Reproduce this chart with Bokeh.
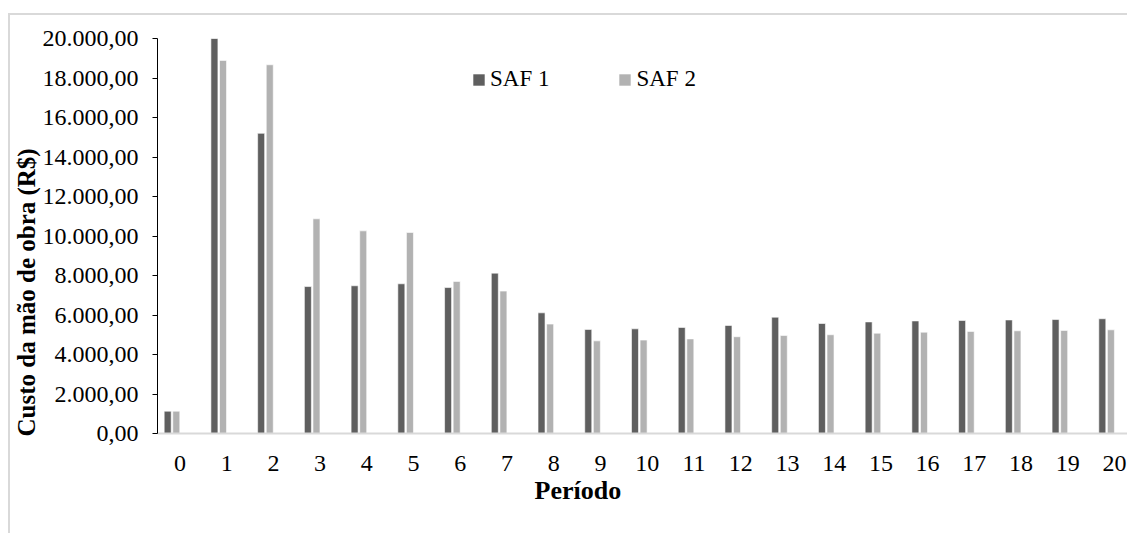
import math
from bokeh.plotting import figure
from bokeh.models import (Range1d, ColumnDataSource, Legend, LegendItem, Title,
                          CustomJSTickFormatter, FixedTicker)
from bokeh.transform import dodge
from bokeh.embed import file_html
from bokeh.resources import INLINE

periodos = [0, 1, 2, 3, 4, 5, 6, 7, 8, 9, 10, 11, 12, 13, 14, 15, 16, 17, 18, 19, 20]
saf1 = [1130, 20000, 15200, 7440, 7480, 7580, 7390, 8120, 6110, 5270, 5300,
        5370, 5470, 5890, 5570, 5650, 5700, 5720, 5750, 5770, 5810]
saf2 = [1130, 18890, 18670, 10870, 10260, 10180, 7700, 7210, 5540, 4690, 4730,
        4790, 4900, 4960, 5000, 5080, 5130, 5170, 5200, 5220, 5250]
y_ticks = [0, 2000, 4000, 6000, 8000, 10000, 12000, 14000, 16000, 18000, 20000]

SERIF = "Liberation Serif"
C1 = "#5f5f5f"
C2 = "#b2b2b2"
LABEL_SHIFT = 0.17  # category labels sit slightly right of the bar pairs

src = ColumnDataSource(dict(periodo=periodos, saf1=saf1, saf2=saf2))

p = figure(width=1119, height=520, output_backend="svg", toolbar_location=None,
           x_range=Range1d(-0.31, 20.49), y_range=Range1d(0, 20000),
           min_border_left=146, min_border_right=0, min_border_top=23,
           min_border_bottom=102)
p.margin = (13, 0, 0, 8)
p.styles = {"border-top": "2px solid #d9d9d9", "border-left": "2px solid #d9d9d9"}
p.outline_line_color = None
p.xgrid.visible = False
p.ygrid.visible = False
p.background_fill_color = "white"
p.border_fill_color = "white"

r1 = p.vbar(x=dodge("periodo", -0.092, range=p.x_range), top="saf1", width=0.15,
            bottom=0, source=src, fill_color=C1, line_color="white", line_width=0.6)
r2 = p.vbar(x=dodge("periodo", 0.092, range=p.x_range), top="saf2", width=0.15,
            bottom=0, source=src, fill_color=C2, line_color="white", line_width=0.6)

# y axis
ya = p.yaxis[0]
ya.ticker = FixedTicker(ticks=y_ticks)
ya.formatter = CustomJSTickFormatter(code="""
    const s = tick.toFixed(2).split('.');
    const ip = s[0].replace(/\\B(?=(\\d{3})+(?!\\d))/g, '.');
    return ip + ',' + s[1];
""")
ya.axis_line_color = "black"
ya.axis_line_width = 1
ya.major_tick_line_color = "black"
ya.major_tick_out = 5
ya.major_tick_in = 0
ya.minor_tick_line_color = None
ya.major_label_text_font = SERIF
ya.major_label_text_font_size = "24px"
ya.major_label_text_color = "black"
ya.major_label_standoff = 14

# x axis
xa = p.xaxis[0]
xa.ticker = FixedTicker(ticks=[v + LABEL_SHIFT for v in periodos])
xa.formatter = CustomJSTickFormatter(args=dict(shift=LABEL_SHIFT),
                                     code="return String(Math.round(tick - shift));")
xa.axis_line_color = "#d9d9d9"
xa.axis_line_width = 2
xa.major_tick_line_color = None
xa.minor_tick_line_color = None
xa.major_label_text_font = SERIF
xa.major_label_text_font_size = "24px"
xa.major_label_text_color = "black"
xa.major_label_standoff = 16

# axis titles
p.add_layout(Title(text="Período", align="left", offset=377, text_font=SERIF,
                   text_font_size="26px", text_font_style="bold",
                   text_color="black", standoff=0), "below")
p.add_layout(Title(text="Custo da mão de obra (R$)", align="left", offset=-3,
                   text_font=SERIF, text_font_size="25px", text_font_style="bold",
                   text_color="black", standoff=0), "left")

legend = Legend(items=[LegendItem(label="SAF 1", renderers=[r1]),
                       LegendItem(label="SAF 2", renderers=[r2])],
                orientation="horizontal", location=(314, 341),
                label_text_font=SERIF, label_text_font_size="23px",
                label_text_color="black", glyph_width=15, glyph_height=15,
                label_standoff=4, spacing=68, padding=0, margin=0,
                border_line_color=None, background_fill_alpha=0)
p.add_layout(legend, "center")

open("out.html", "w").write(file_html(p, INLINE))
